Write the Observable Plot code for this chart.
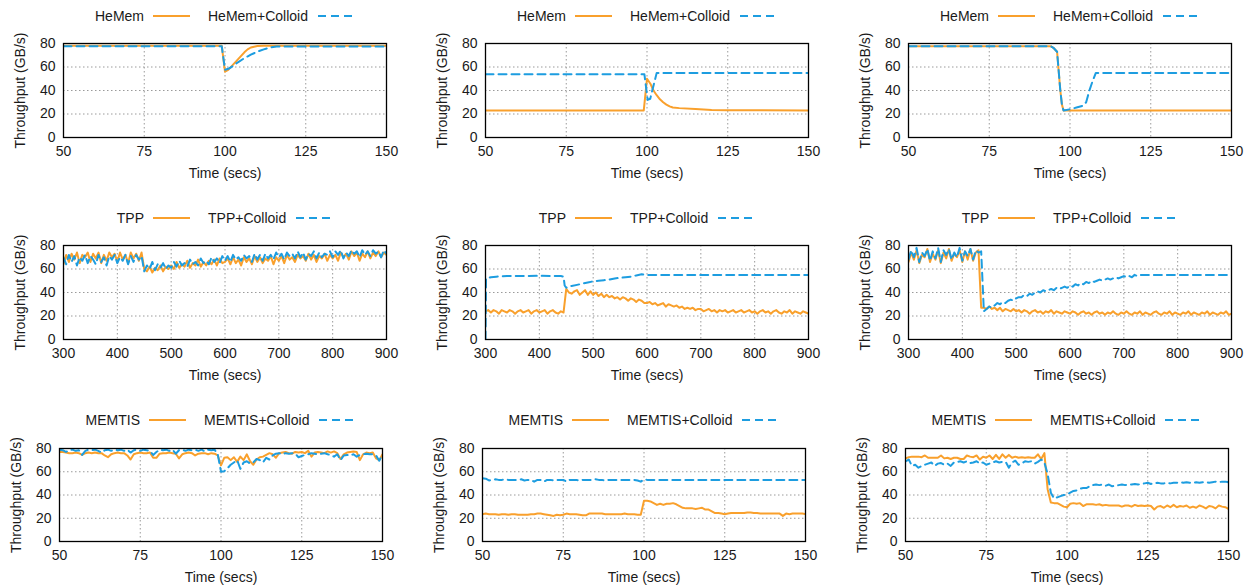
<!DOCTYPE html>
<html>
<head>
<meta charset="utf-8">
<script src="https://cdn.jsdelivr.net/npm/d3@7"></script>
<script src="https://cdn.jsdelivr.net/npm/@observablehq/plot@0.6"></script>
<style>
  body { margin: 0; background: #fff; font-family: "Liberation Sans", Arial, sans-serif; }
  #root { position: relative; width: 1247px; height: 586px; overflow: hidden; background: #fff; }
  #root svg.plot { position: absolute; }
  .legend { position: absolute; display: flex; align-items: center; font-size: 14px; color: #1a1a1a; white-space: nowrap; transform: translateY(-50%); }
  .legend .first { position: absolute; right: 100%; }
  .legend svg { display: block; }
</style>
</head>
<body>
<div id="root"></div>
<script>
// ---------------- DATA ----------------
const yTicks = [0, 20, 40, 60, 80];
const xTicksShort = [50, 75, 100, 125, 150];
const xTicksLong = [300, 400, 500, 600, 700, 800, 900];

const systems = ["HeMem", "TPP", "MEMTIS"];
const seriesLabels = {
  HeMem: ["HeMem", "HeMem+Colloid"],
  TPP: ["TPP", "TPP+Colloid"],
  MEMTIS: ["MEMTIS", "MEMTIS+Colloid"]
};

// sample time grids
const tTpp = d3.range(300, 901, 5);   // TPP runs, 5 s samples
const tSec = d3.range(50, 151, 1);    // MEMTIS runs, 1 s samples

// HeMem, column 1
const hemA_base_t = [50, 99, 100, 101, 102, 103, 104, 105, 106, 107, 108, 109, 110, 112, 150];
const hemA_base_v = [78, 78, 56, 57.5, 60.5, 63.5, 66.5, 69.5, 72.5, 75, 76.6, 77.3, 77.8, 78, 78];
const hemA_col_t = [50, 99, 100, 101, 102, 104, 106, 108, 110, 112, 114, 116, 150];
const hemA_col_v = [77.6, 77.6, 57.7, 58.5, 60, 64, 67.5, 70.5, 73, 75, 76.7, 77.5, 77.5];
// HeMem, column 2
const hemB_base_t = [50, 99, 100, 101, 102, 103, 104, 105, 106, 107, 108, 110, 115, 120, 125, 150];
const hemB_base_v = [23, 23, 50, 46, 40, 36, 32.5, 30, 28, 26.5, 25.5, 25, 24.2, 23.5, 23.2, 23];
const hemB_col_t = [50, 99.2, 100.2, 101, 103, 150];
const hemB_col_v = [53.8, 53.8, 32, 33, 55, 55];
// HeMem, column 3
const hemC_base_t = [50, 94, 95, 96, 97, 97.5, 98, 150];
const hemC_base_v = [77.7, 77.7, 76, 73, 40, 28, 23, 23];
const hemC_col_t = [50, 94, 95, 96, 97, 97.5, 98, 100, 102, 104, 105, 106, 107, 108, 150];
const hemC_col_v = [77.7, 77.7, 76, 73, 40, 28, 23, 24, 25.5, 27, 30, 40, 48, 55, 55];

// TPP, column 1 (on tTpp)
const tppA_base_v = [
  64, 72, 66, 73, 68, 74, 65, 72, 70, 74, 66, 73, 69, 74, 65, 72, 67, 74, 70, 73, 66, 74, 68, 72, 65, 74, 69, 73, 67, 74,
  60, 58, 62, 57, 61, 59, 63, 58, 62, 60,
  63, 60, 66, 61, 64, 62, 67, 61, 65, 63, 68, 62, 66, 63, 67, 64, 68, 63, 69, 65,
  66, 69, 64, 70, 65, 68, 63, 70, 66, 69, 64, 71, 66, 70, 65, 69, 67, 71, 64, 70,
  67, 71, 65, 72, 68, 70, 66, 72, 69, 71, 67, 73, 68, 72, 66, 71, 69, 73, 67, 72,
  69, 72, 67, 74, 70, 73, 68, 75, 71, 74, 67, 73, 70, 75, 69, 74, 71, 75, 70, 74, 72
];
const tppA_col_v = [
  70, 64, 72, 66, 71, 63, 70, 67, 72, 65, 71, 68, 64, 72, 66, 70, 63, 71, 68, 72, 65, 70, 67, 72, 64, 71, 66, 72, 68, 71,
  58, 63, 60, 66, 59, 64, 61, 65, 60, 63,
  61, 66, 62, 67, 63, 65, 62, 68, 64, 66, 63, 69, 65, 67, 64, 70, 66, 69, 65, 71,
  67, 71, 66, 72, 68, 70, 67, 72, 69, 71, 66, 73, 68, 72, 67, 73, 69, 72, 68, 74,
  70, 73, 68, 74, 71, 73, 69, 75, 70, 74, 68, 73, 71, 75, 69, 74, 70, 73, 72, 75,
  70, 75, 72, 76, 69, 74, 71, 76, 73, 75, 70, 76, 72, 75, 71, 76, 73, 75, 70, 76, 73
];
// TPP, column 2
const tppB_base_v = [
  24, 25, 23, 25, 24, 22, 25, 24, 23, 25, 24, 22, 24, 25, 23, 24, 25, 22, 24, 25, 23, 24, 25, 22, 24, 25, 23, 22, 24, 23,
  43, 40, 39, 41, 42, 38, 40, 42, 38, 41,
  38, 40, 37, 39, 36, 38, 36, 37, 35, 36, 34, 36, 35, 33, 35, 34, 32, 34, 33, 31,
  31, 32, 30, 31, 29, 30, 31, 28, 30, 29, 28, 29, 27, 28, 26, 27, 26, 27, 25, 26,
  26, 24, 25, 26, 24, 25, 23, 25, 24, 25, 23, 24, 25, 23, 24, 25, 23, 24, 25, 23,
  24, 22, 24, 25, 23, 24, 22, 24, 25, 23, 22, 24, 23, 25, 22, 24, 23, 22, 24, 23, 22
];
const tppB_col_t = [300, 301, 310, 320, 340, 360, 380, 400, 420, 440, 445, 447, 450, 455, 460, 470, 480, 490, 500, 510, 520, 530, 540, 550, 560, 570, 580, 590, 600, 650, 700, 750, 800, 850, 900];
const tppB_col_v = [0, 52, 53, 53.5, 54, 54, 54, 54.2, 54, 54, 53.5, 46, 44, 45, 45.5, 46.5, 47.5, 48.5, 49.5, 50, 50.5, 51, 52, 52.5, 53, 53.5, 54.5, 55.5, 55, 55, 55, 55, 55, 55, 55];
// TPP, column 3
const tppC_base_v = [
  66, 74, 68, 76, 65, 72, 70, 77, 66, 73, 68, 76, 65, 74, 69, 77, 67, 73, 70, 76, 66, 75, 68, 77, 67, 74, 76,
  27, 27, 26, 28, 26, 27, 25, 27, 24, 26, 25, 24, 26,
  24, 25, 23, 25, 24, 22, 24, 25, 23, 24, 22, 24, 23, 25, 22, 24, 23, 22, 24, 23,
  22, 24, 23, 21, 23, 24, 22, 23, 21, 23, 24, 22, 23, 21, 23, 22, 24, 22, 21, 23,
  22, 24, 22, 21, 23, 22, 24, 21, 23, 22, 21, 23, 24, 22, 21, 23, 22, 24, 21, 23,
  22, 21, 23, 22, 24, 21, 23, 22, 21, 23, 22, 24, 21, 23, 22, 21, 23, 22, 24, 21, 22
];
const tppC_col_v = [
  68, 76, 70, 78, 66, 74, 71, 77, 67, 75, 69, 78, 66, 76, 72, 77, 68, 74, 70, 78, 67, 75, 71, 77, 68, 76, 74, 75,
  24, 26, 28, 27, 29, 31, 30, 32, 31, 33, 34, 33,
  35, 36, 36, 38, 37, 39, 38, 40, 41, 40, 42, 41, 42, 43, 42, 44, 43, 44, 45, 44,
  46, 45, 47, 46, 48, 47, 49, 48, 50, 49, 50, 51, 50, 51, 52, 51, 52, 53, 52, 53,
  54, 53, 54, 53, 55, 54, 55, 55, 55, 55, 55, 55, 55, 55, 55, 55, 55, 55, 55, 55,
  55, 55, 55, 55, 55, 55, 55, 55, 55, 55, 55, 55, 55, 55, 55, 55, 55, 55, 55, 55, 55
];

// MEMTIS, column 1 (on tSec)
const memA_base_v = [
  77, 77, 76.5, 76, 76, 76.5, 76, 74.5, 76, 76.5,
  76, 76.5, 76, 76, 74, 72.5, 75, 76, 76.5, 76,
  76, 74, 70.5, 75, 76, 76.5, 76, 76, 76.5, 72,
  72, 75.5, 76, 76, 76.5, 76, 75.5, 71.5, 75, 76,
  76.5, 76, 74, 75.5, 76, 76, 75, 76, 75.5, 74,
  65.5, 72, 72.5, 70, 72.5, 68.5, 73, 70, 75, 69,
  66, 70.5, 72.5, 73, 74.5, 76, 75, 72, 76, 76.5,
  77, 76, 75.5, 77, 76.5, 77, 76, 78, 73, 76.5,
  77, 76.5, 76, 77.5, 76.5, 77.5, 76, 71, 75, 76.5,
  77, 77.5, 77, 70, 75, 76.5, 76, 76.5, 71.5, 70,
  75
];
const memA_col_v = [
  79, 78.5, 77, 78.5, 79, 78, 78.5, 74.5, 78, 79,
  78.5, 79, 78, 76.5, 78.5, 79, 78, 79, 78.5, 79,
  78, 79, 76.5, 78.5, 79, 78, 79, 78.5, 78, 74.5,
  77, 79, 78.5, 79, 78, 79, 75.5, 78.5, 79, 78,
  79, 78.5, 79, 78, 79, 77.5, 79, 78.5, 79, 75,
  60, 60.5, 63, 66, 68, 70, 62.5, 68, 69, 67,
  68, 71, 70, 68, 72, 70.5, 74, 75.5, 76, 75,
  76, 75.5, 76, 75.5, 72.5, 73.5, 74.5, 75, 76, 75.5,
  75, 75.5, 76, 75, 74.5, 73, 75, 70, 74, 74.5,
  74, 75, 73, 74.5, 75, 75.5, 75, 75, 74, 69.5,
  75
];
// MEMTIS, column 2
const memB_base_v = [
  23.5, 24, 23.5, 23.5, 23.5, 23, 23.5, 23.5, 23, 23.5,
  23.5, 23, 23, 23, 23, 23.5, 23.5, 24, 24, 23.5,
  23, 22.5, 22, 23, 22.5, 23, 24, 23.5, 23.5, 23.5,
  23, 22.5, 22.5, 24, 24, 24, 24, 24, 23.5, 23.5,
  23.5, 23.5, 23.5, 23.5, 24, 23.5, 23.5, 23.5, 23, 23,
  35, 35, 34.5, 33, 31.5, 32.5, 31.5, 32.5, 32.5, 33,
  32, 30.5, 29, 28.5, 28.5, 28.5, 28, 28.5, 29, 27.5,
  27.5, 26, 24.5, 24.5, 24, 23.5, 24, 24.5, 24.5, 24.5,
  24.5, 24.5, 25, 25, 24.5, 24.5, 24, 24, 24, 24,
  24, 24, 24, 22, 24, 23.5, 24, 24, 24, 24,
  23.5
];
const memB_col_v = [
  54.5, 54, 52.5, 53, 53.5, 53, 53, 53.5, 53, 53,
  53, 53, 53.5, 52.5, 53, 53, 51.5, 53, 53, 51.5,
  53, 53, 52.5, 53, 53, 53, 51.5, 53, 53, 53,
  52.5, 53, 53, 53, 53, 53.5, 53, 53, 52.5, 53,
  53, 53, 53, 53, 53, 53, 53, 53, 52.5, 51.5,
  53.5, 53, 53, 53, 53, 53, 53, 53, 53, 53,
  53, 53, 53, 53, 53, 53, 53, 53, 53, 53,
  53, 53, 53, 53, 53, 53, 53, 53, 53, 53,
  53, 53, 53, 53, 53, 53, 53, 53, 53, 53,
  53, 53, 53, 53, 53, 53, 53, 53, 53, 53,
  53
];
// MEMTIS, column 3
const memC_base_v = [
  71.5, 72.5, 73, 73, 73, 72.5, 74, 72, 72, 72,
  72, 74, 71.5, 72, 71, 72, 72, 71, 71, 74,
  73, 72.5, 74, 70.5, 73, 72, 74, 71, 74.5, 71,
  75, 72, 74.5, 72, 73, 72, 72.5, 72, 72.5, 72,
  72, 75, 71, 76, 45, 33.5, 33, 33, 31.5, 30,
  29.5, 32.5, 33, 32.5, 33, 30.5, 32, 32, 32, 31.5,
  32, 31, 31.5, 31, 31, 31, 31, 30, 31, 31,
  30, 31.5, 30.5, 31, 30.5, 31, 30.5, 27.5, 30, 30.5,
  29, 31, 29.5, 31.5, 29.5, 30.5, 30, 31, 29, 30,
  29, 31, 30, 28.5, 30.5, 30, 28.5, 31, 30, 29.5,
  28
];
const memC_col_v = [
  69, 70.5, 65, 66, 63.5, 65, 66, 67, 68, 65,
  67, 67.5, 66, 67, 65, 68, 68.5, 69, 68, 69,
  67.5, 68, 69, 67, 68, 66, 67, 68, 69, 68,
  68.5, 68.5, 63.5, 68, 69.5, 66, 67, 69, 68.5, 69,
  67, 68.5, 70.5, 68, 58, 42, 37, 38, 39, 40,
  40.5, 42, 43.5, 44, 45.5, 46, 46, 47.5, 48.5, 49,
  48.5, 49, 48, 49, 47.5, 48, 48.5, 49, 48.5, 49,
  49, 49.5, 49, 49.5, 50, 50.5, 49.5, 50, 50.5, 50,
  50, 50.5, 50, 50.5, 50.5, 51, 50.5, 51, 50.5, 50.5,
  51, 50.5, 51, 51, 50.5, 51, 51.5, 51, 51.5, 51.5,
  51
];

// ---------------- LAYOUT / STYLE ----------------
const ORANGE = "#f9a02c";
const BLUE = "#1d9de0";
const FONT = "'Liberation Sans', Arial, Helvetica, sans-serif";

const zip = (t, v) => t.map((x, i) => ({t: x, v: v[i]}));

// plot areas: [left, right] per column, [top, bottom] per row
const rowDefs = [
  {sys: "HeMem", top: 43, bottom: 137, legendY: 16, cols: [[63, 386], [485, 808], [908, 1231]], xDomain: [50, 150], xTicks: xTicksShort,
   series: [[zip(hemA_base_t, hemA_base_v), zip(hemA_col_t, hemA_col_v)],
            [zip(hemB_base_t, hemB_base_v), zip(hemB_col_t, hemB_col_v)],
            [zip(hemC_base_t, hemC_base_v), zip(hemC_col_t, hemC_col_v)]]},
  {sys: "TPP", top: 245, bottom: 339, legendY: 218, cols: [[63, 386], [485, 808], [908, 1231]], xDomain: [300, 900], xTicks: xTicksLong,
   series: [[zip(tTpp, tppA_base_v), zip(tTpp, tppA_col_v)],
            [zip(tTpp, tppB_base_v), zip(tppB_col_t, tppB_col_v)],
            [zip(tTpp, tppC_base_v), zip(tTpp, tppC_col_v)]]},
  {sys: "MEMTIS", top: 448, bottom: 541, legendY: 420, cols: [[59, 382], [482, 805], [905, 1228]], xDomain: [50, 150], xTicks: xTicksShort,
   series: [[zip(tSec, memA_base_v), zip(tSec, memA_col_v)],
            [zip(tSec, memB_base_v), zip(tSec, memB_col_v)],
            [zip(tSec, memC_base_v), zip(tSec, memC_col_v)]]}
];

const root = document.getElementById("root");
const mL = 62, mR = 24, mT = 10, mB = 46;

function sampleSvg(color, dash, w) {
  const ns = "http://www.w3.org/2000/svg";
  const s = document.createElementNS(ns, "svg");
  s.setAttribute("width", w); s.setAttribute("height", 10);
  const l = document.createElementNS(ns, "line");
  l.setAttribute("x1", 0); l.setAttribute("x2", w);
  l.setAttribute("y1", 5); l.setAttribute("y2", 5);
  l.setAttribute("stroke", color); l.setAttribute("stroke-width", 2);
  if (dash) l.setAttribute("stroke-dasharray", dash);
  s.appendChild(l);
  return s;
}

for (const row of rowDefs) {
  row.cols.forEach(([left, right], ci) => {
    const [baseData, colData] = row.series[ci];
    const W = right - left, H = row.bottom - row.top;
    const svg = Plot.plot({
      width: W + mL + mR,
      height: H + mT + mB,
      marginLeft: mL, marginRight: mR, marginTop: mT, marginBottom: mB,
      style: {fontFamily: FONT, fontSize: "14px", color: "#1a1a1a", background: "transparent", overflow: "visible"},
      x: {domain: row.xDomain, ticks: row.xTicks, label: "Time (secs)", labelAnchor: "center", labelArrow: "none",
          tickSize: 0, tickPadding: 9, labelOffset: 40},
      y: {domain: [0, 80], ticks: yTicks, label: "Throughput (GB/s)", labelAnchor: "center", labelArrow: "none",
          tickSize: 0, tickPadding: 8, labelOffset: 48},
      marks: [
        Plot.gridX(row.xTicks, {stroke: "#9a9a9a", strokeOpacity: 1, strokeWidth: 1, strokeDasharray: "1.5,2.5"}),
        Plot.gridY(yTicks, {stroke: "#9a9a9a", strokeOpacity: 1, strokeWidth: 1, strokeDasharray: "1.5,2.5"}),
        Plot.line(baseData, {x: "t", y: "v", stroke: ORANGE, strokeWidth: 2, clip: true}),
        Plot.line(colData, {x: "t", y: "v", stroke: BLUE, strokeWidth: 2, strokeDasharray: "8,5", clip: true}),
        Plot.frame({stroke: "#000", strokeWidth: 1.3})
      ]
    });
    svg.classList.add("plot");
    svg.style.left = (left - mL) + "px";
    svg.style.top = (row.top - mT) + "px";
    root.appendChild(svg);

    // legend (key) above each panel
    const [lab1, lab2] = seriesLabels[row.sys];
    const lg = document.createElement("div");
    lg.className = "legend";
    lg.style.left = (left + 81) + "px";
    lg.style.top = row.legendY + "px";
    const s1 = document.createElement("span"); s1.className = "first"; s1.textContent = lab1;
    const g1 = sampleSvg(ORANGE, null, 37); g1.style.marginLeft = "9px";
    const s2 = document.createElement("span"); s2.textContent = lab2; s2.style.marginLeft = "18px";
    const g2 = sampleSvg(BLUE, "8,5", 34); g2.style.marginLeft = "10px";
    lg.append(s1, g1, s2, g2);
    root.appendChild(lg);
  });
}
</script>
</body>
</html>
